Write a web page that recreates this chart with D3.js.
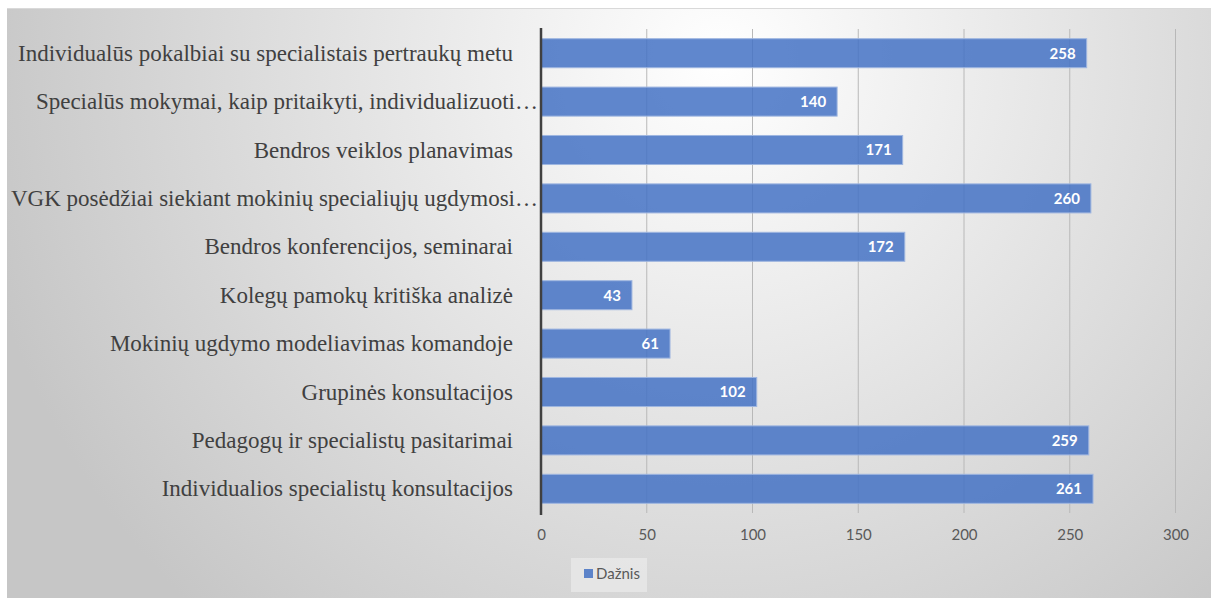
<!DOCTYPE html>
<html>
<head>
<meta charset="utf-8">
<script src="https://cdn.jsdelivr.net/npm/d3@7"></script>
<style>
  body { margin: 0; background: #fff; }
</style>
</head>
<body>
<div class="canvas"></div>
<script>
// data
const categories = [
    'Individualūs pokalbiai su specialistais pertraukų metu',
    'Specialūs mokymai, kaip pritaikyti, individualizuoti…',
    'Bendros veiklos planavimas',
    'VGK posėdžiai siekiant mokinių specialiųjų ugdymosi…',
    'Bendros konferencijos, seminarai',
    'Kolegų pamokų kritiška analizė',
    'Mokinių ugdymo modeliavimas komandoje',
    'Grupinės konsultacijos',
    'Pedagogų ir specialistų pasitarimai',
    'Individualios specialistų konsultacijos'
]
const values = [258, 140, 171, 260, 172, 43, 61, 102, 259, 261]
const xTicks = [0, 50, 100, 150, 200, 250, 300]
const seriesName = 'Dažnis'

const data = categories.map((c, i) => ({ name: c, value: values[i] }))

const width = 1211
const height = 598

const svg = d3.select('.canvas')
    .append('svg')
    .attr('width', width)
    .attr('height', height)

// background gradient
const defs = svg.append('defs')
const grad = defs.append('radialGradient')
    .attr('id', 'bg')
    .attr('gradientUnits', 'userSpaceOnUse')
    .attr('cx', 720).attr('cy', 60)
    .attr('r', 760)
grad.append('stop').attr('offset', '0%').attr('stop-color', '#ffffff')
grad.append('stop').attr('offset', '100%').attr('stop-color', '#c6c6c6')

svg.append('rect')
    .attr('x', 7).attr('y', 8)
    .attr('width', width - 7).attr('height', height - 8)
    .attr('fill', 'url(#bg)')
svg.append('line')
    .attr('x1', 7).attr('x2', width)
    .attr('y1', 8.5).attr('y2', 8.5)
    .attr('stroke', '#d9d9d9')

// plot area
const margin = { top: 29, left: 541, right: 35, bottom: 85 }

const x = d3.scaleLinear()
    .domain([0, 300])
    .range([margin.left, 1175.5])

const y = d3.scaleBand()
    .domain(categories)
    .range([margin.top, 513])
    .paddingInner(0.4)
    .paddingOuter(0.2)

// grid lines
svg.append('g')
    .selectAll('line')
    .data(xTicks.slice(1))
    .enter()
    .append('line')
    .attr('x1', d => x(d))
    .attr('x2', d => x(d))
    .attr('y1', margin.top)
    .attr('y2', 513)
    .attr('stroke', '#b8b8b8')
    .attr('stroke-width', 1)

// bars
svg.append('g')
    .selectAll('rect')
    .data(data)
    .enter()
    .append('rect')
    .attr('x', x(0))
    .attr('y', d => y(d.name))
    .attr('width', d => x(d.value) - x(0))
    .attr('height', y.bandwidth())
    .attr('fill', '#4472c4')
    .attr('fill-opacity', 0.85)
    .attr('stroke', '#9fb6e0')
    .attr('stroke-width', 1)

// value labels
svg.append('g')
    .selectAll('text')
    .data(data)
    .enter()
    .append('text')
    .attr('x', d => x(d.value) - 11)
    .attr('y', d => y(d.name) + y.bandwidth() / 2)
    .attr('dy', '0.36em')
    .attr('text-anchor', 'end')
    .attr('fill', '#fff')
    .attr('font-family', 'Lato, "Open Sans", sans-serif')
    .attr('font-weight', 'bold')
    .attr('font-size', 15)
    .text(d => d.value)

// category axis line
svg.append('line')
    .attr('x1', x(0)).attr('x2', x(0))
    .attr('y1', margin.top - 1).attr('y2', 515)
    .attr('stroke', '#404040')
    .attr('stroke-width', 2.5)

// category labels
svg.append('g')
    .selectAll('text')
    .data(categories)
    .enter()
    .append('text')
    .attr('x', d => d.endsWith('…') ? x(0) - 3 : x(0) - 28)
    .attr('y', d => y(d) + y.bandwidth() / 2)
    .attr('dy', '0.33em')
    .attr('text-anchor', 'end')
    .attr('fill', '#404040')
    .attr('font-family', '"Liberation Serif", "Times New Roman", serif')
    .attr('font-size', 23)
    .text(d => d)

// x axis tick labels
const xAxis = d3.axisBottom(x)
    .tickValues(xTicks)
    .tickSize(0)
    .tickPadding(0)
const xAxisGroup = svg.append('g')
    .attr('transform', 'translate(0, 529)')
    .call(xAxis)
xAxisGroup.select('.domain').remove()
xAxisGroup.selectAll('text')
    .attr('fill', '#595959')
    .attr('font-family', 'Lato, "Open Sans", sans-serif')
    .attr('font-size', 15)

// legend
const legend = svg.append('g')
legend.append('rect')
    .attr('x', 571).attr('y', 558)
    .attr('width', 76).attr('height', 34)
    .attr('fill', '#ebebeb')
    .attr('fill-opacity', 0.7)
legend.append('rect')
    .attr('x', 584).attr('y', 569)
    .attr('width', 9).attr('height', 9)
    .attr('fill', '#4472c4')
    .attr('fill-opacity', 0.85)
legend.append('text')
    .attr('x', 596).attr('y', 579)
    .attr('fill', '#595959')
    .attr('font-family', 'Lato, "Open Sans", sans-serif')
    .attr('font-size', 15)
    .text(seriesName)
</script>
</body>
</html>
